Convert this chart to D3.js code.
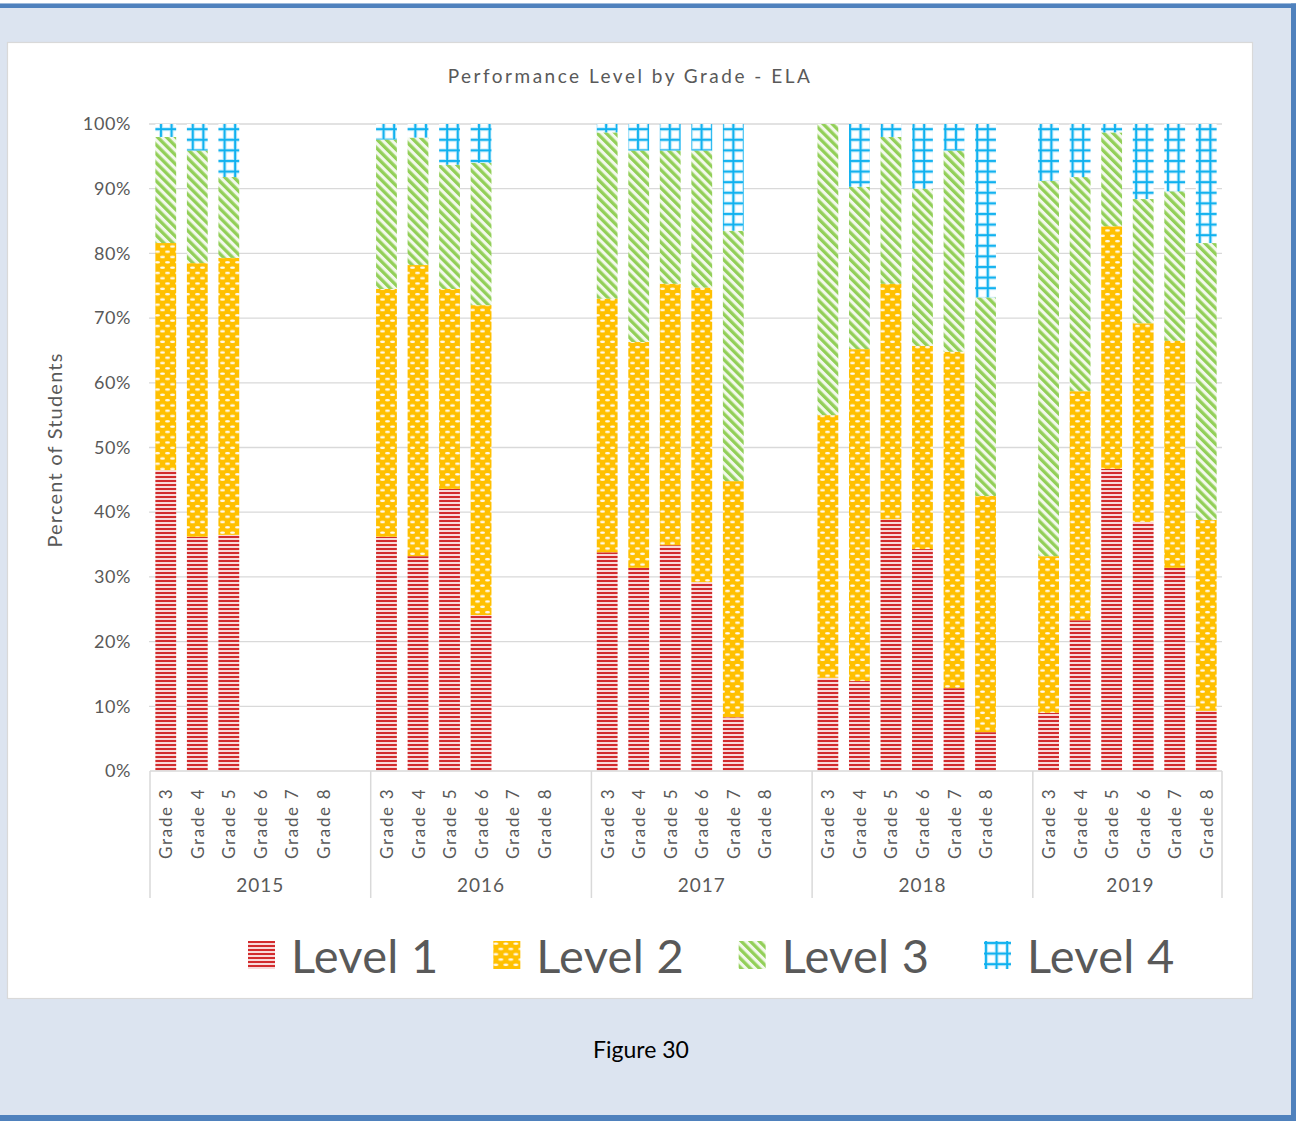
<!DOCTYPE html>
<html>
<head>
<meta charset="utf-8">
<script src="https://cdn.jsdelivr.net/npm/d3@7"></script>
<style>
  body { margin: 0; background: #dce4f0; }
  svg { display: block; font-family: Lato, "Open Sans", sans-serif; }
</style>
</head>
<body>
<svg id="chart" width="1296" height="1121"></svg>
<script>
// ---- data: percent of students at each performance level ----
const years = ["2015", "2016", "2017", "2018", "2019"];
const grades = ["Grade 3", "Grade 4", "Grade 5", "Grade 6", "Grade 7", "Grade 8"];
const levels = ["Level 1", "Level 2", "Level 3", "Level 4"];
const yTicks = [0, 0.1, 0.2, 0.3, 0.4, 0.5, 0.6, 0.7, 0.8, 0.9, 1.0];

// one row per year, one entry per grade (null = grade not reported)
const level1 = [
  [46.5, 36.2, 36.5, null, null, null],
  [36.2, 33.2, 43.6, 24.1, null, null],
  [33.8, 31.4, 34.9, 29.2, 8.3, null],
  [14.4, 13.9, 38.9, 34.3, 12.8, 6.0],
  [9.0, 23.3, 46.7, 38.5, 31.4, 9.3]
];
const level2 = [
  [35.1, 42.3, 42.8, null, null, null],
  [38.3, 45.0, 30.9, 47.9, null, null],
  [39.2, 34.9, 40.4, 45.5, 36.5, null],
  [40.6, 51.3, 36.4, 31.4, 52.0, 36.5],
  [24.2, 35.4, 37.5, 30.7, 35.1, 29.5]
];
const level3 = [
  [16.4, 17.4, 12.5, null, null, null],
  [23.1, 19.7, 19.2, 22.0, null, null],
  [25.7, 29.6, 20.6, 21.2, 38.7, null],
  [45.0, 25.1, 22.7, 24.3, 31.1, 30.7],
  [58.0, 33.1, 14.5, 19.2, 23.1, 42.8]
];
const level4 = [
  [2.0, 4.1, 8.2, null, null, null],
  [2.4, 2.1, 6.3, 6.0, null, null],
  [1.3, 4.1, 4.1, 4.1, 16.5, null],
  [0.0, 9.7, 2.0, 10.0, 4.1, 26.8],
  [8.8, 8.2, 1.3, 11.6, 10.4, 18.4]
];

// ---- layout ----
const W = 1296, H = 1121;
const plot = { left: 150, right: 1222, top: 124, bottom: 771 };
const textColor = "#595959";
const gridColor = "#d9d9d9";

const svg = d3.select("#chart");

// page frame
svg.append("rect").attr("width", W).attr("height", H).attr("fill", "#dce4f0");
svg.append("rect").attr("x", 0).attr("y", 0).attr("width", W).attr("height", 3.5).attr("fill", "#ffffff");
svg.append("rect").attr("x", 0).attr("y", 3.5).attr("width", W).attr("height", 4.5).attr("fill", "#4f81bd");
svg.append("rect").attr("x", 1291).attr("y", 3.5).attr("width", 5).attr("height", H).attr("fill", "#4f81bd");
svg.append("rect").attr("x", 0).attr("y", 1115).attr("width", W).attr("height", 6).attr("fill", "#4f81bd");

// chart area
svg.append("rect")
  .attr("x", 7.5).attr("y", 42.5).attr("width", 1245).attr("height", 956)
  .attr("fill", "#ffffff").attr("stroke", "#d9d9d9").attr("stroke-width", 1.2);

// ---- fill patterns for the four levels ----
const defs = svg.append("defs");

// Level 1: red horizontal stripes
const p1 = defs.append("pattern").attr("id", "pat-l1")
  .attr("patternUnits", "userSpaceOnUse").attr("width", 8).attr("height", 4);
p1.append("rect").attr("width", 8).attr("height", 4).attr("fill", "#f8dada");
p1.append("rect").attr("y", 0).attr("width", 8).attr("height", 2).attr("fill", "#d22b2d");

// Level 2: orange with small white dashes in a brick layout
const p2 = defs.append("pattern").attr("id", "pat-l2")
  .attr("patternUnits", "userSpaceOnUse").attr("width", 10).attr("height", 10.6);
p2.append("rect").attr("width", 10).attr("height", 10.6).attr("fill", "#ffc000");
[[2.5, 2.6], [7.5, 7.9]].forEach(([cx, cy]) => {
  p2.append("ellipse").attr("cx", cx).attr("cy", cy).attr("rx", 2.5).attr("ry", 1.2)
    .attr("fill", "#fffaf0");
});

// Level 3: green diagonal stripes running down to the right
const p3 = defs.append("pattern").attr("id", "pat-l3")
  .attr("patternUnits", "userSpaceOnUse").attr("width", 6.4).attr("height", 6.4)
  .attr("patternTransform", "rotate(-45)");
p3.append("rect").attr("width", 6.4).attr("height", 6.4).attr("fill", "#f3f9ec");
p3.append("rect").attr("x", 0).attr("width", 3.3).attr("height", 6.4).attr("fill", "#92cf58");

// Level 4: blue grid on white
const g4 = 10.6;
const p4 = defs.append("pattern").attr("id", "pat-l4")
  .attr("patternUnits", "userSpaceOnUse").attr("width", g4).attr("height", g4);
p4.append("rect").attr("width", g4).attr("height", g4).attr("fill", "#ffffff");
p4.append("rect").attr("x", 0).attr("width", 4).attr("height", g4).attr("fill", "#c6ecfb");
p4.append("rect").attr("y", 0).attr("width", g4).attr("height", 4).attr("fill", "#c6ecfb");
p4.append("rect").attr("x", 1).attr("width", 2).attr("height", g4).attr("fill", "#0fb1ef");
p4.append("rect").attr("y", 1).attr("width", g4).attr("height", 2).attr("fill", "#0fb1ef");

const levelFill = d3.scaleOrdinal().domain(levels)
  .range(["url(#pat-l1)", "url(#pat-l2)", "url(#pat-l3)", "url(#pat-l4)"]);

// ---- rows: one per year/grade, with a spacer slot between years ----
const rows = [];
const domain = [];
years.forEach((yr, yi) => {
  grades.forEach((gr, gi) => {
    const key = yr + "|" + gr;
    domain.push(key);
    const row = { key, year: yr, grade: gr, present: level1[yi][gi] !== null };
    row["Level 1"] = (level1[yi][gi] ?? 0) / 100;
    row["Level 2"] = (level2[yi][gi] ?? 0) / 100;
    row["Level 3"] = (level3[yi][gi] ?? 0) / 100;
    row["Level 4"] = (level4[yi][gi] ?? 0) / 100;
    rows.push(row);
  });
  if (yi < years.length - 1) domain.push("gap|" + yr);
});

const x = d3.scaleBand().domain(domain)
  .range([plot.left, plot.right]).paddingInner(0.34).paddingOuter(0.17);
const y = d3.scaleLinear().domain([0, 1]).range([plot.bottom, plot.top]);
const slotStart = k => x(k) - x.step() * x.paddingInner() / 2;

// gridlines
svg.append("g")
  .selectAll("line").data(yTicks.slice(1)).join("line")
  .attr("x1", plot.left - 1).attr("x2", plot.right)
  .attr("y1", d => y(d)).attr("y2", d => y(d))
  .attr("stroke", gridColor).attr("stroke-width", 1.3);

// y axis labels
const yAxis = svg.append("g").attr("transform", `translate(${plot.left},0)`)
  .call(d3.axisLeft(y).tickValues(yTicks).tickFormat(d3.format(".0%")).tickSize(0).tickPadding(19));
yAxis.select(".domain").remove();
yAxis.selectAll("text")
  .attr("fill", textColor).attr("font-size", 18).attr("letter-spacing", 0.6)
  .attr("font-family", "Lato, sans-serif");

// stacked bars
const stacked = d3.stack().keys(levels)(rows.filter(r => r.present));
svg.append("g").selectAll("g").data(stacked).join("g")
  .attr("fill", d => levelFill(d.key))
  .selectAll("rect").data(d => d.filter(s => s[1] - s[0] > 0)).join("rect")
  .attr("x", d => x(d.data.key))
  .attr("width", x.bandwidth())
  .attr("y", d => y(d[1]))
  .attr("height", d => y(d[0]) - y(d[1]));

// category axis line and year separators
svg.append("line")
  .attr("x1", plot.left).attr("x2", plot.right)
  .attr("y1", plot.bottom).attr("y2", plot.bottom)
  .attr("stroke", gridColor).attr("stroke-width", 1.5);

const bounds = [plot.left]
  .concat(years.slice(1).map(yr => slotStart(yr + "|" + grades[0])))
  .concat([plot.right]);
svg.append("g").selectAll("line").data(bounds).join("line")
  .attr("x1", d => d).attr("x2", d => d)
  .attr("y1", plot.bottom).attr("y2", 898)
  .attr("stroke", gridColor).attr("stroke-width", 1.5);

// grade labels (rotated)
const xAxis = svg.append("g").attr("transform", `translate(0,${plot.bottom})`)
  .call(d3.axisBottom(x).tickValues(rows.map(r => r.key)).tickSize(0)
    .tickFormat(k => k.split("|")[1]));
xAxis.select(".domain").remove();
xAxis.selectAll("text")
  .attr("fill", textColor).attr("font-size", 17).attr("letter-spacing", 1.7)
  .attr("font-family", "Lato, sans-serif")
  .attr("text-anchor", "start").attr("dy", null).attr("y", null)
  .attr("dominant-baseline", "central")
  .attr("transform", "translate(0,88) rotate(-90)");

// year labels
svg.append("g").selectAll("text").data(years).join("text")
  .attr("x", (d, i) => (bounds[i] + bounds[i + 1]) / 2 + (i === years.length - 1 ? 3 : 0))
  .attr("y", 892)
  .attr("text-anchor", "middle")
  .attr("fill", textColor).attr("font-size", 19).attr("letter-spacing", 1)
  .text(d => d);

// title
svg.append("text")
  .attr("x", 630).attr("y", 83)
  .attr("text-anchor", "middle")
  .attr("fill", textColor).attr("font-size", 19).attr("letter-spacing", 2.5)
  .text("Performance Level by Grade - ELA");

// y axis title
svg.append("text")
  .attr("transform", "translate(62,450) rotate(-90)")
  .attr("text-anchor", "middle")
  .attr("fill", textColor).attr("font-size", 20).attr("letter-spacing", 1.2)
  .text("Percent of Students");

// legend
const legendX = d3.scaleLinear().domain([0, 3]).range([248, 984]);
const legend = svg.append("g").selectAll("g").data(levels).join("g")
  .attr("transform", (d, i) => `translate(${legendX(i)},941)`);
legend.append("rect")
  .attr("width", 27).attr("height", 28)
  .attr("fill", d => levelFill(d));
legend.append("text")
  .attr("x", 43).attr("y", 32)
  .attr("fill", textColor).attr("font-size", 47).attr("letter-spacing", 0.3)
  .text(d => d);

// figure caption
svg.append("text")
  .attr("x", 641).attr("y", 1058)
  .attr("text-anchor", "middle")
  .attr("fill", "#000000").attr("font-size", 23)
  .text("Figure 30");
</script>
</body>
</html>
